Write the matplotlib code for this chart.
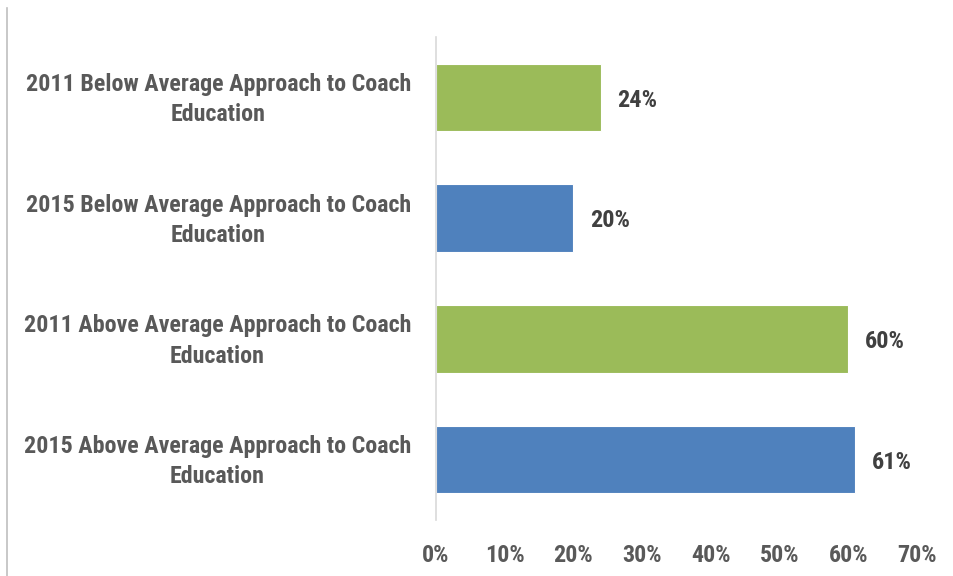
import matplotlib
matplotlib.use("Agg")
import matplotlib.pyplot as plt
from matplotlib import font_manager
from matplotlib.lines import Line2D
from matplotlib.transforms import ScaledTranslation

categories = [
    "2011 Below Average Approach to Coach\nEducation",
    "2015 Below Average Approach to Coach\nEducation",
    "2011 Above Average Approach to Coach\nEducation",
    "2015 Above Average Approach to Coach\nEducation",
]
values = [24, 20, 60, 61]
colors = ["#9BBB59", "#4F81BD", "#9BBB59", "#4F81BD"]
xticks = [0, 10, 20, 30, 40, 50, 60, 70]
xtick_labels = ["0%", "10%", "20%", "30%", "40%", "50%", "60%", "70%"]

names = {f.name for f in font_manager.fontManager.ttflist}
fam = [n for n in ["Roboto Condensed", "Liberation Sans Narrow", "Liberation Sans"] if n in names] + ["DejaVu Sans"]

fig = plt.figure(figsize=(9.54, 5.76), dpi=100)
ax = fig.add_axes([436/954, 1-520/576, (917-436)/954, (520-37)/576])

y = list(range(len(categories)))
ax.barh(y, values, height=0.56, color=colors, edgecolor="white", linewidth=0.8)
ax.set_ylim(len(categories)-0.5, -0.5)
ax.set_xlim(0, 70)

for yi, v in zip(y, values):
    ax.annotate(f"{v}%", (v, yi), xytext=(12, -2), textcoords="offset points",
                va="center", ha="left", fontsize=17.5, fontweight="bold",
                color="#404040", family=fam)

ax.set_yticks(y)
ax.set_yticklabels(categories, fontsize=17.3, fontweight="bold", color="#595959", family=fam)
ax.set_xticks(xticks)
ax.set_xticklabels(xtick_labels, fontsize=17.3, fontweight="bold", color="#595959", family=fam)
ax.tick_params(axis="y", length=0, pad=18)
ax.tick_params(axis="x", length=0, pad=17)
shift = ScaledTranslation(0, 4/100, fig.dpi_scale_trans)
for lab in ax.get_yticklabels():
    lab.set_multialignment("center")
    lab.set_linespacing(1.4)
    lab.set_transform(lab.get_transform() + shift)

for s in ["top", "right", "bottom"]:
    ax.spines[s].set_visible(False)
ax.spines["left"].set_color("#D9D9D9")
ax.spines["left"].set_linewidth(1.2)

fig.add_artist(Line2D([7.5/954, 7.5/954], [0, 1-8/576], transform=fig.transFigure,
                      color="#BFBFBF", linewidth=1.2))

fig.savefig("out.png", dpi=100)
